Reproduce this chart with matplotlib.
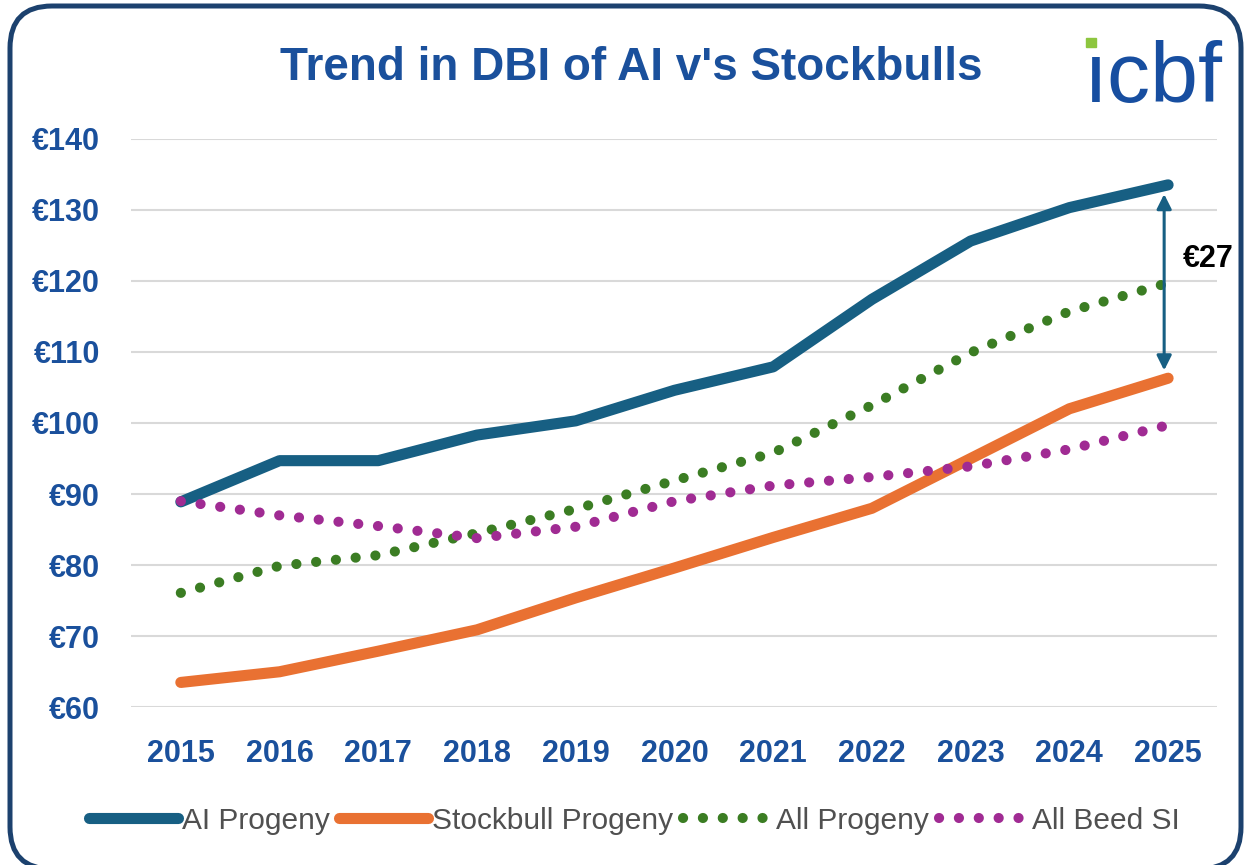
import matplotlib
matplotlib.use("Agg")
import matplotlib.pyplot as plt
import numpy as np
from matplotlib.patches import FancyBboxPatch, Rectangle
from matplotlib.transforms import IdentityTransform

# data
years = ["2015", "2016", "2017", "2018", "2019", "2020", "2021", "2022", "2023", "2024", "2025"]
ai_progeny = [88.9, 94.7, 94.7, 98.3, 100.3, 104.6, 107.9, 117.4, 125.6, 130.3, 133.5]
stockbull_progeny = [63.5, 65.0, 67.9, 70.9, 75.4, 79.6, 83.9, 88.0, 95.0, 102.0, 106.3]
all_progeny = [76.1, 79.9, 81.4, 84.5, 87.9, 91.9, 95.8, 102.5, 109.9, 115.7, 119.7]
all_beef_si = [89.0, 87.0, 85.5, 83.8, 85.4, 89.0, 91.2, 92.4, 93.9, 96.3, 99.7]
gap_label = "€27"
y_ticks = [60, 70, 80, 90, 100, 110, 120, 130, 140]

BLUE_TXT = "#1A509C"
C_AI = "#175F83"
C_STOCK = "#E97132"
C_ALL = "#3B7D23"
C_BEEF = "#A02B93"

plt.rcParams["font.family"] = ["Liberation Sans", "DejaVu Sans"]

fig = plt.figure(figsize=(12.46, 8.65), dpi=100)
fig.patch.set_facecolor("white")

# rounded frame round the whole chart
frame = FancyBboxPatch((10, -4), 1231, 863, boxstyle="round,pad=0,rounding_size=42",
                       transform=IdentityTransform(), fill=False,
                       edgecolor="#1C416E", linewidth=3.6)
fig.patches.append(frame)

ax = fig.add_axes([0.1055, 0.1823, 0.8716, 0.6574])
x = np.arange(len(years))

dots = (0, (0.01, 1.95))
ax.plot(x, ai_progeny, color=C_AI, lw=8, solid_capstyle="round", solid_joinstyle="round",
        label="AI Progeny")
ax.plot(x, stockbull_progeny, color=C_STOCK, lw=8, solid_capstyle="round",
        solid_joinstyle="round", label="Stockbull Progeny")
ax.plot(x, all_progeny, color=C_ALL, lw=7.3, linestyle=dots,
        dash_capstyle="round", label="All Progeny")
ax.plot(x, all_beef_si, color=C_BEEF, lw=7.3, linestyle=dots,
        dash_capstyle="round", label="All Beed SI")

# gap arrow between AI and stockbull in the last year
ax.annotate("", xy=(x[-1] - 0.04, ai_progeny[-1] - 1.3),
            xytext=(x[-1] - 0.04, stockbull_progeny[-1] + 1.1),
            arrowprops=dict(arrowstyle="<|-|>", color=C_AI, lw=2.2, mutation_scale=22,
                            shrinkA=0, shrinkB=0))
ax.text(x[-1] + 0.15, 123.0, gap_label, fontsize=22, fontweight="bold", color="black",
        ha="left", va="center", clip_on=False)

ax.set_xlim(-0.5, len(years) - 0.5)
ax.set_ylim(60, 140)
ax.set_yticks(y_ticks)
ax.set_yticklabels([f"€{v}" for v in y_ticks])
ax.set_xticks(x)
ax.set_xticklabels(years)
ax.tick_params(axis="both", length=0, labelsize=22, labelcolor=BLUE_TXT)
ax.tick_params(axis="y", pad=22.5)
ax.tick_params(axis="x", pad=22.5)
for lab in ax.get_xticklabels() + ax.get_yticklabels():
    lab.set_fontweight("bold")
ax.grid(axis="y", color="#D9D9D9", lw=1.5)
ax.set_axisbelow(True)
for s in ax.spines.values():
    s.set_visible(False)

leg = fig.legend(loc="center", bbox_to_anchor=(0.509, 0.051), ncol=4, frameon=False,
                 fontsize=21.5, handlelength=2.98, handletextpad=0.13, columnspacing=0.33,
                 borderpad=0)
for t in leg.get_texts():
    t.set_color("#505050")

fig.text(0.5064, 0.9075, "Trend in DBI of AI v's Stockbulls", fontsize=33, fontweight="bold",
         color=BLUE_TXT, ha="center", va="baseline")

# icbf logo
fig.text(1084 / 1246, (865 - 102) / 865, "ıcbf", fontsize=62, color="#174EA0",
         ha="left", va="baseline")
fig.patches.append(Rectangle((1086 / 1246, (865 - 47) / 865), 10 / 1246, 9 / 865,
                             transform=fig.transFigure, color="#8DC63F"))

fig.savefig("out.png", dpi=100)
